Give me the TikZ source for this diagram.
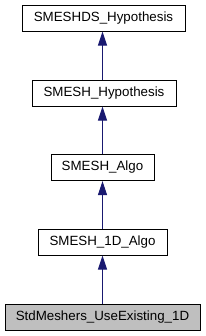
\documentclass[tikz,border=0pt]{standalone}
\usepackage{fontspec}
\setmainfont{Liberation Sans}
\usepackage{xcolor}
\usetikzlibrary{arrows.meta}
\definecolor{edgeblue}{HTML}{191970}
\definecolor{curgray}{HTML}{BFBFBF}

\begin{document}
\begin{tikzpicture}[x=0.75pt,y=-0.75pt,font=\fontsize{10}{12}\selectfont,
  cls/.style={draw=black,line width=0.75pt,fill=white,inner sep=0pt,minimum height=19.5pt},
  inherit/.style={edgeblue,line width=0.75pt,-{Triangle[length=10.5pt,width=6.75pt]}}]
\useasboundingbox (0,0) rectangle (205,336);
\node[cls, minimum width=122.25pt] (dshyp) at (103.5,18) {SMESHDS\_Hypothesis};
\node[cls, minimum width=108pt] (hyp) at (104,93) {SMESH\_Hypothesis};
\node[cls, minimum width=77.25pt] (algo) at (102.5,167.5) {SMESH\_Algo};
\node[cls, minimum width=96.75pt] (algoone) at (102.5,242) {SMESH\_1D\_Algo};
\node[cls, fill=curgray, minimum width=146.25pt] (useexist) at (102.5,317) {StdMeshers\_UseExisting\_1D};
\coordinate (edgex) at (102.5,0);
% inheritance edges, child -> parent
\foreach \c/\p in {hyp/dshyp, algo/hyp, algoone/algo, useexist/algoone}
  \draw[inherit] (edgex |- \c.north) -- (edgex |- \p.south);
\end{tikzpicture}
\end{document}
